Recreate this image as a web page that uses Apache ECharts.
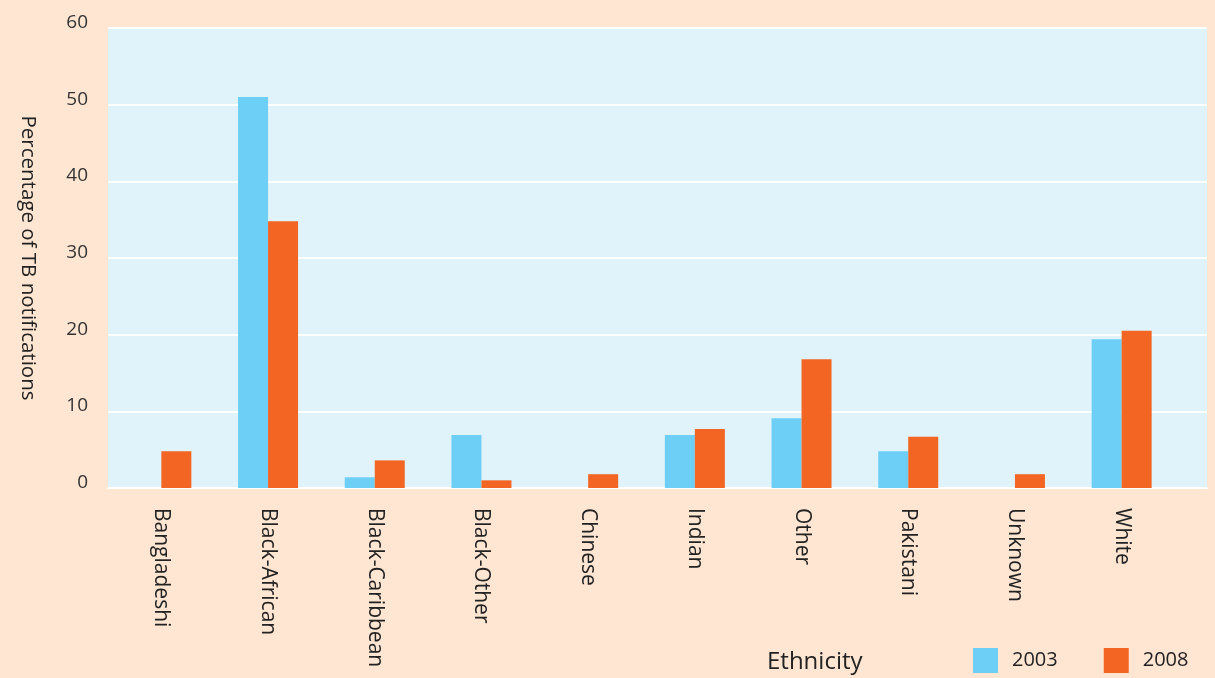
<!DOCTYPE html>
<html>
<head>
<meta charset="utf-8">
<script src="https://cdn.jsdelivr.net/npm/echarts@6/dist/echarts.min.js"></script>
<style>
  html, body { margin: 0; padding: 0; background: #fee6d2; }
  #chart { width: 1215px; height: 678px; }
</style>
</head>
<body>
<div id="chart"></div>
<script>
// categories and values
var ethnicities = ['Bangladeshi', 'Black-African', 'Black-Caribbean', 'Black-Other', 'Chinese',
                   'Indian', 'Other', 'Pakistani', 'Unknown', 'White'];
var pct2003 = [0, 51.0, 1.4, 6.9, 0, 6.9, 9.1, 4.8, 0, 19.4];
var pct2008 = [4.8, 34.8, 3.6, 1.0, 1.8, 7.7, 16.8, 6.7, 1.8, 20.5];
var yTicks = [0, 10, 20, 30, 40, 50, 60];

var FONT = '"Open Sans", "Noto Sans", sans-serif';

var myChart = echarts.init(document.getElementById('chart'));

// x is a numeric axis so the plot can run a little past the last group
function pairs(vals) {
  return vals.map(function (v, i) { return [i, v]; });
}

myChart.setOption({
  backgroundColor: '#fee6d2',
  animation: false,
  textStyle: { fontFamily: FONT },
  title: {
    text: 'Ethnicity',
    left: 767,
    top: 650,
    padding: 0,
    textStyle: { fontSize: 24, fontWeight: 'normal', color: '#222', fontFamily: FONT }
  },
  legend: {
    left: 973,
    top: 648,
    padding: 0,
    icon: 'rect',
    itemWidth: 25,
    itemHeight: 25,
    itemGap: 46,
    textStyle: { fontSize: 20, color: '#222', padding: [0, 0, 0, 9], fontFamily: FONT },
    data: ['2003', '2008']
  },
  grid: {
    left: 108,
    right: 8,
    top: 28,
    bottom: 190,
    show: true,
    backgroundColor: '#e0f3fa',
    borderWidth: 0
  },
  xAxis: {
    type: 'value',
    min: -0.5,
    max: 9.8,
    splitLine: { show: false },
    axisTick: { show: false },
    axisLine: { show: true, lineStyle: { color: '#ffffff', width: 2 } },
    axisLabel: {
      customValues: ethnicities.map(function (c, i) { return i; }),
      formatter: function (v) { return ethnicities[Math.round(v)] || ''; },
      rotate: -90,
      margin: 20,
      fontSize: 21,
      color: '#222',
      fontFamily: FONT
    }
  },
  yAxis: {
    type: 'value',
    min: yTicks[0],
    max: yTicks[yTicks.length - 1],
    interval: 10,
    name: 'Percentage of TB notifications',
    nameLocation: 'middle',
    nameRotate: -90,
    nameGap: 70,
    nameTextStyle: { fontSize: 20.5, color: '#222', fontFamily: FONT },
    axisLine: { show: false },
    axisTick: { show: false },
    axisLabel: {
      fontSize: 19,
      color: '#333',
      margin: 20,
      verticalAlign: 'bottom',
      lineHeight: 11,
      fontFamily: FONT
    },
    splitLine: { show: true, lineStyle: { color: '#ffffff', width: 2 } }
  },
  series: [
    {
      name: '2003',
      type: 'bar',
      data: pairs(pct2003),
      barWidth: 30,
      barGap: '0%',
      itemStyle: { color: '#6dcff6' }
    },
    {
      name: '2008',
      type: 'bar',
      data: pairs(pct2008),
      barWidth: 30,
      barGap: '0%',
      itemStyle: { color: '#f26522' }
    }
  ]
});
window.onresize = myChart.resize;
</script>
</body>
</html>
